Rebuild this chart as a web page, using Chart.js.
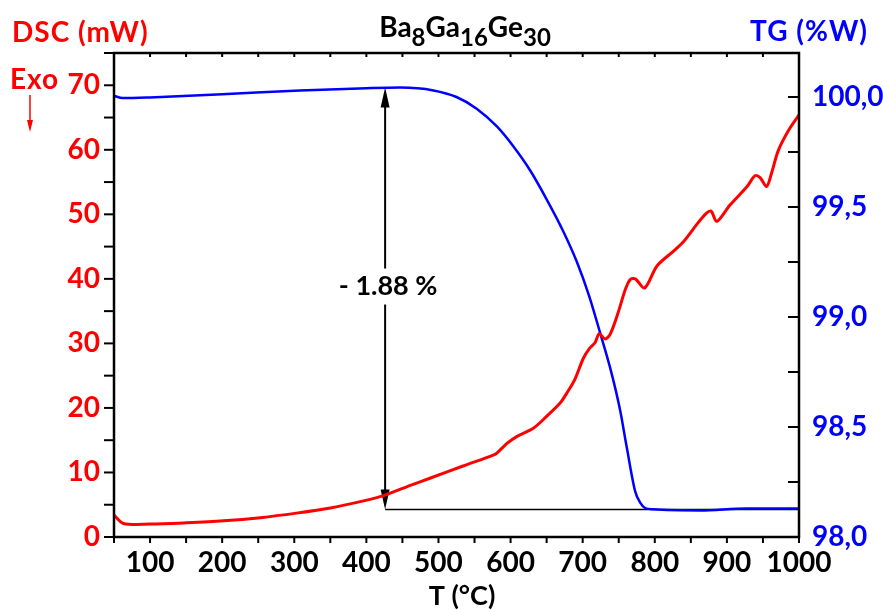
<!DOCTYPE html>
<html>
<head>
<meta charset="utf-8">
<script src="https://cdn.jsdelivr.net/npm/chart.js@4.4.0/dist/chart.umd.min.js"></script>
<style>
  html, body { margin: 0; padding: 0; background: #fff; }
</style>
</head>
<body>
<canvas id="myChart" width="883" height="612"></canvas>
<script>
// DSC curve (red, left axis, mW)
var dscT   = [50, 63, 100, 151, 202, 253, 303, 350, 396, 426, 461, 488, 534, 576, 581, 595, 609, 632, 650, 669, 678, 689, 701, 710, 717, 723, 731, 738, 749, 759, 766, 773, 786, 803, 826, 840, 858, 870, 878, 886, 904, 928, 939, 946, 955, 962, 971, 985, 1000];
var dscVal = [3.4, 2.1, 2.0, 2.2, 2.5, 3.0, 3.7, 4.5, 5.6, 6.5, 8.0, 9.1, 11.0, 12.7, 13.0, 14.5, 15.6, 16.9, 18.7, 20.8, 22.3, 24.4, 27.7, 29.3, 30.1, 31.5, 30.7, 31.4, 34.7, 38.3, 39.9, 40.0, 38.6, 42.0, 44.3, 45.8, 48.4, 50.0, 50.5, 48.9, 51.4, 54.3, 56.0, 55.7, 54.3, 56.4, 59.8, 62.9, 65.4];

// TG curve (blue, right axis, %W)
var tgT   = [50, 62, 100, 200, 308, 400, 447, 493, 525, 553, 581, 604, 627, 650, 673, 692, 709, 724, 740, 752, 761, 773, 780, 786, 798, 863, 927, 1000];
var tgVal = [100.005, 99.995, 99.998, 100.012, 100.03, 100.04, 100.043, 100.03, 100.0, 99.947, 99.866, 99.775, 99.667, 99.535, 99.39, 99.25, 99.095, 98.93, 98.745, 98.575, 98.41, 98.205, 98.155, 98.133, 98.126, 98.121, 98.13, 98.129];

var xTicks   = [100, 200, 300, 400, 500, 600, 700, 800, 900, 1000];
var dscTicks = [0, 10, 20, 30, 40, 50, 60, 70];
var tgTicks  = [98.0, 98.5, 99.0, 99.5, 100.0];

// mass loss annotation
var dropT = 426, dropTop = 100.043, dropBottom = 98.125, dropLabel = '- 1.88 %';

var fontFam = 'Lato, "DejaVu Sans", sans-serif';

function line(ctx, x1, y1, x2, y2) {
  ctx.beginPath(); ctx.moveTo(x1, y1); ctx.lineTo(x2, y2); ctx.stroke();
}
function arrowHead(ctx, x, tipY, dir, w, h) {
  ctx.beginPath();
  ctx.moveTo(x, tipY);
  ctx.lineTo(x - w / 2, tipY - dir * h);
  ctx.lineTo(x + w / 2, tipY - dir * h);
  ctx.closePath();
  ctx.fill();
}

var dropPlugin = {
  id: 'drop',
  beforeDatasetsDraw: function(chart) {
    var ctx = chart.ctx, x = chart.scales.x, y2 = chart.scales.y2;
    var ax = x.getPixelForValue(dropT);
    var yTop = y2.getPixelForValue(dropTop), yBot = y2.getPixelForValue(dropBottom);
    var yMid = (yTop + yBot) / 2 - 12;
    ctx.save();
    ctx.strokeStyle = '#000'; ctx.fillStyle = '#000';
    ctx.lineWidth = 1.5;
    line(ctx, ax, yBot, x.getPixelForValue(1000), yBot);
    ctx.lineWidth = 2;
    line(ctx, ax, yTop + 10, ax, yMid - 18);
    line(ctx, ax, yMid + 18, ax, yBot - 10);
    arrowHead(ctx, ax, yTop, -1, 9, 20);
    arrowHead(ctx, ax, yBot, 1, 9, 20);
    ctx.font = 'bold 27px ' + fontFam;
    ctx.textAlign = 'center'; ctx.textBaseline = 'middle';
    ctx.fillText(dropLabel, ax + 3, yMid);
    ctx.restore();
  }
};

var framePlugin = {
  id: 'frame',
  afterDraw: function(chart) {
    var ctx = chart.ctx, a = chart.chartArea;
    var x = chart.scales.x, y = chart.scales.y, y2 = chart.scales.y2;
    ctx.save();
    ctx.strokeStyle = '#000';
    ctx.lineWidth = 2;
    for (var t = 50; t <= 1000; t += 50) {
      var px = x.getPixelForValue(t);
      line(ctx, px, a.bottom, px, a.bottom + 6);
      line(ctx, px, a.top, px, a.top + 4);
    }
    for (var v = 0; v <= 75; v += 5) {
      var py = y.getPixelForValue(v);
      line(ctx, a.left - 10, py, a.left, py);
    }
    for (var k = 0; k <= 8; k++) {
      var py2 = y2.getPixelForValue(98 + k * 0.25);
      line(ctx, a.right - 11, py2, a.right, py2);
    }
    ctx.lineWidth = 2.5;
    ctx.strokeRect(a.left, a.top, a.right - a.left, a.bottom - a.top);

    // axis titles
    ctx.textBaseline = 'middle';
    ctx.textAlign = 'left';
    ctx.fillStyle = '#ff0000';
    ctx.font = 'bold 28px ' + fontFam;
    ctx.letterSpacing = '1px';
    ctx.fillText('DSC (mW)', 12, 33);
    ctx.fillText('Exo', 10, 80);
    ctx.strokeStyle = '#ff0000'; ctx.lineWidth = 1.5;
    line(ctx, 30, 95, 30, 124);
    arrowHead(ctx, 30, 132, 1, 6, 12);

    ctx.fillStyle = '#0000ff';
    ctx.fillText('TG (%W)', 750, 32);

    ctx.fillStyle = '#000';
    ctx.textAlign = 'center';
    ctx.letterSpacing = '0px';
    ctx.font = 'bold 27px ' + fontFam;
    ctx.fillText('T (\u00B0C)', 462, 596);

    // formula title with subscripts
    var parts = [['Ba', 0], ['8', 1], ['Ga', 0], ['16', 1], ['Ge', 0], ['30', 1]];
    var widths = [], total = 0;
    parts.forEach(function(p) {
      ctx.font = (p[1] ? 'bold 24px ' : 'bold 28px ') + fontFam;
      var w = ctx.measureText(p[0]).width;
      widths.push(w); total += w;
    });
    var cx = 465 - total / 2;
    ctx.textAlign = 'left';
    parts.forEach(function(p, i) {
      ctx.font = (p[1] ? 'bold 24px ' : 'bold 28px ') + fontFam;
      ctx.fillText(p[0], cx, p[1] ? 38 : 28);
      cx += widths[i];
    });
    ctx.restore();
  }
};

var ctx = document.getElementById('myChart').getContext('2d');
var myChart = new Chart(ctx, {
  type: 'line',
  data: {
    datasets: [{
      label: 'DSC',
      data: dscT.map(function(t, i) { return { x: t, y: dscVal[i] }; }),
      yAxisID: 'y',
      borderColor: '#ff0000',
      borderWidth: 3,
      pointRadius: 0,
      tension: 0.3,
      fill: false
    }, {
      label: 'TG',
      data: tgT.map(function(t, i) { return { x: t, y: tgVal[i] }; }),
      yAxisID: 'y2',
      borderColor: '#0000ff',
      borderWidth: 2.5,
      pointRadius: 0,
      cubicInterpolationMode: 'monotone',
      fill: false
    }]
  },
  options: {
    responsive: false,
    animation: false,
    devicePixelRatio: 1,
    layout: { padding: { top: 53, left: 0, right: 0, bottom: 0 } },
    plugins: { legend: { display: false }, tooltip: { enabled: false }, title: { display: false } },
    scales: {
      x: {
        type: 'linear', min: 50, max: 1000,
        afterBuildTicks: function(s) { s.ticks = xTicks.map(function(v) { return { value: v }; }); },
        afterFit: function(s) { s.height = 75; },
        grid: { display: false, drawTicks: false },
        border: { display: false },
        ticks: { autoSkip: false, maxRotation: 0, color: '#000', padding: 9,
                 callback: function(v) { return String(v); },
                 font: { family: fontFam, size: 28, weight: 'bold' } }
      },
      y: {
        position: 'left', min: 0, max: 75,
        afterBuildTicks: function(s) { s.ticks = dscTicks.map(function(v) { return { value: v }; }); },
        afterFit: function(s) { s.width = 114; },
        grid: { display: false, drawTicks: false },
        border: { display: false },
        ticks: { color: '#ff0000', padding: 14,
                 font: { family: fontFam, size: 28, weight: 'bold' } }
      },
      y2: {
        position: 'right', min: 98, max: 100.2,
        afterBuildTicks: function(s) { s.ticks = tgTicks.map(function(v) { return { value: v }; }); },
        afterFit: function(s) { s.width = 84; },
        grid: { display: false, drawTicks: false },
        border: { display: false },
        ticks: { color: '#0000ff', padding: 13,
                 callback: function(v) { return v.toFixed(1).replace('.', ','); },
                 font: { family: fontFam, size: 28, weight: 'bold' } }
      }
    }
  },
  plugins: [dropPlugin, framePlugin]
});
</script>
</body>
</html>
